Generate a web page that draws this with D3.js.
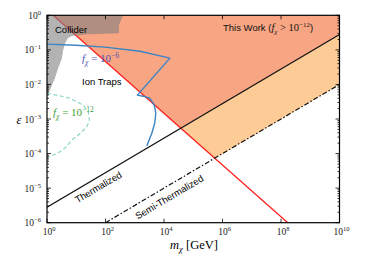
<!DOCTYPE html>
<html>
<head>
<meta charset="utf-8">
<script src="https://cdn.jsdelivr.net/npm/d3@7"></script>
<style>
  body { margin: 0; background: #fff; }
  svg text { font-family: "Liberation Serif", serif; }
  .sans { font-family: "Liberation Sans", "DejaVu Sans", sans-serif; }
</style>
</head>
<body>
<svg id="chart" width="390" height="260"></svg>
<script>
// axis ticks
const xTicks = [1e0, 1e2, 1e4, 1e6, 1e8, 1e10];
const yTicks = [1e-6, 1e-5, 1e-4, 1e-3, 1e-2, 1e-1, 1e0];

// straight bounds [m, eps]
const thermal = [[1, 2.8e-6], [1e10, 0.28]];
const semiThermal = [[1e2, 1e-6], [1e10, 1e-2]];
const redLine = [[1.62, 1], [1.7e8, 1e-6]];

// filled regions
const thisWork = [[1.62, 1], [1e10, 1], [1e10, 0.28], [3.7e4, 5.4e-4]];
const thermalBand = [[3.7e4, 5.4e-4], [1e10, 0.28], [1e10, 1e-2], [5.4e5, 7.2e-5]];
const collider = [
	[1, 1], [10 ** 2.6, 1], [10 ** 2.46, 10 ** -0.29], [10 ** 2.46, 10 ** -0.52],
	[10 ** 1.4, 10 ** -0.55], [10 ** 0.85, 10 ** -0.6], [10 ** 0.72, 10 ** -0.66],
	[10 ** 0.62, 10 ** -0.81], [10 ** 0.55, 10 ** -1.01], [10 ** 0.51, 10 ** -1.24],
	[10 ** 0.38, 10 ** -1.53], [10 ** 0.27, 10 ** -1.82], [10 ** 0.17, 10 ** -2.02],
	[10 ** 0.07, 10 ** -2.22], [1, 10 ** -2.31]
];

// ion trap curves (log10 m, log10 eps)
const ionTrap6 = [
	[0, -0.835], [0.99, -0.865], [1.98, -0.92], [3.18, -1.04], [4.2, -1.24],
	[3.09, -2.31], [3.29, -2.34], [3.52, -2.4], [3.67, -2.6], [3.72, -2.84],
	[3.68, -3.13], [3.58, -3.42], [3.41, -3.78]
];
const ionTrap12 = [
	[0, -2.26], [0.33, -2.31], [0.79, -2.4], [1.24, -2.6], [1.41, -2.79],
	[1.45, -3.03], [1.36, -3.23], [1.13, -3.42], [0.84, -3.61], [0.67, -3.8],
	[0.44, -3.95], [0.22, -4.04], [0, -4.11]
];

const svg = d3.select('#chart');
const x = d3.scaleLog().domain([1, 1e10]).range([47, 339.5]);
const y = d3.scaleLog().domain([1e-6, 1]).range([222.7, 15.3]);

const line = d3.line().x(d => x(d[0])).y(d => y(d[1]));
const logLine = d3.line().x(d => x(10 ** d[0])).y(d => y(10 ** d[1])).curve(d3.curveLinear);

svg.append('defs').append('clipPath').attr('id', 'clip')
	.append('rect').attr('x', x(1)).attr('y', y(1)).attr('width', x(1e10) - x(1)).attr('height', y(1e-6) - y(1));

const plot = svg.append('g').attr('clip-path', 'url(#clip)');

plot.append('path').attr('d', line(thisWork) + 'Z').attr('fill', '#F8A584');
plot.append('path').attr('d', line(thermalBand) + 'Z').attr('fill', '#FDCB95');

plot.append('path').attr('d', line(redLine)).attr('stroke', '#ff1a1a').attr('stroke-width', 1.3).attr('fill', 'none');

plot.append('path').attr('d', line(collider) + 'Z').attr('fill', '#808080').attr('fill-opacity', 0.6);

plot.append('path').attr('d', line(thermal)).attr('stroke', '#111').attr('stroke-width', 1.2).attr('fill', 'none');
plot.append('path').attr('d', line(semiThermal)).attr('stroke', '#111').attr('stroke-width', 1.2)
	.attr('stroke-dasharray', '5,2,1.5,2').attr('fill', 'none');

plot.append('path').attr('d', logLine(ionTrap6)).attr('stroke', '#3b84c4').attr('stroke-width', 1.4)
	.attr('fill', 'none').attr('stroke-linejoin', 'round');
plot.append('path').attr('d', logLine(ionTrap12)).attr('stroke', '#8fd6cb').attr('stroke-width', 1.2)
	.attr('stroke-dasharray', '4,2.5').attr('fill', 'none');

// frame
svg.append('rect').attr('x', x(1)).attr('y', y(1)).attr('width', x(1e10) - x(1)).attr('height', y(1e-6) - y(1))
	.attr('fill', 'none').attr('stroke', '#000').attr('stroke-width', 1.2);

// ticks
const tickG = svg.append('g').attr('stroke', '#000').attr('stroke-width', 0.8);
xTicks.forEach(t => {
	tickG.append('line').attr('x1', x(t)).attr('x2', x(t)).attr('y1', y(1e-6)).attr('y2', y(1e-6) - 4);
	tickG.append('line').attr('x1', x(t)).attr('x2', x(t)).attr('y1', y(1)).attr('y2', y(1) + 4);
});
yTicks.forEach(t => {
	tickG.append('line').attr('x1', x(1)).attr('x2', x(1) + 4).attr('y1', y(t)).attr('y2', y(t));
	tickG.append('line').attr('x1', x(1e10)).attr('x2', x(1e10) - 4).attr('y1', y(t)).attr('y2', y(t));
	if (t < 1) {
		for (let k = 2; k < 10; k++) {
			const v = t * k;
			tickG.append('line').attr('x1', x(1)).attr('x2', x(1) + 2).attr('y1', y(v)).attr('y2', y(v));
			tickG.append('line').attr('x1', x(1e10)).attr('x2', x(1e10) - 2).attr('y1', y(v)).attr('y2', y(v));
		}
	}
});

function pow10(g, exp) {
	g.append('tspan').text('10');
	g.append('tspan').attr('dy', -4).attr('font-size', 6.5).text(exp);
}

xTicks.forEach(t => {
	const e = Math.round(Math.log10(t));
	const tx = svg.append('text').attr('x', x(t) + 2).attr('y', 235).attr('font-size', 9.5)
		.attr('text-anchor', 'middle').attr('fill', '#222');
	pow10(tx, String(e).replace('-', '\u2212'));
});
yTicks.forEach(t => {
	const e = Math.round(Math.log10(t));
	const tx = svg.append('text').attr('x', 41).attr('y', y(t) + 3.5).attr('font-size', 9.5)
		.attr('text-anchor', 'end').attr('fill', '#222');
	pow10(tx, String(e).replace('-', '\u2212'));
});

// axis labels
const xl = svg.append('text').attr('x', 194).attr('y', 249).attr('font-size', 12.5).attr('text-anchor', 'middle');
xl.append('tspan').attr('font-style', 'italic').text('m');
xl.append('tspan').attr('font-style', 'italic').attr('font-size', 8.5).attr('dy', 2.5).text('χ');
xl.append('tspan').attr('dy', -2.5).text(' [GeV]');
svg.append('text').attr('x', 19).attr('y', 124).attr('font-size', 12.5).attr('font-style', 'italic')
	.attr('text-anchor', 'middle').text('ε');

// annotations
svg.append('text').attr('class', 'sans').attr('x', 55).attr('y', 33).attr('font-size', 9.5).text('Collider');
svg.append('text').attr('class', 'sans').attr('x', 82).attr('y', 85).attr('font-size', 9.5).text('Ion Traps');

function fLabel(px, py, exp, color, rel) {
	const t = svg.append('text').attr('x', px).attr('y', py).attr('font-size', 11).attr('fill', color);
	t.append('tspan').attr('font-style', 'italic').text('f');
	t.append('tspan').attr('font-style', 'italic').attr('font-size', 7.5).attr('dy', 2.5).text('χ');
	t.append('tspan').attr('dy', -2.5).text(' ' + rel + ' 10');
	t.append('tspan').attr('font-size', 7.5).attr('dy', -4.5).text(exp);
	return t;
}
fLabel(82, 62, '\u22126', '#5252b8', '=');
fLabel(53, 116, '\u221212', '#3f9f3f', '=');

const tw = svg.append('text').attr('x', 223).attr('y', 31).attr('font-size', 9.5).attr('fill', '#111');
tw.append('tspan').attr('class', 'sans').text('This Work (');
tw.append('tspan').attr('font-style', 'italic').attr('font-size', 10.5).text('f');
tw.append('tspan').attr('font-style', 'italic').attr('font-size', 7).attr('dy', 2.5).text('χ');
tw.append('tspan').attr('font-size', 10.5).attr('dy', -2.5).text(' > 10');
tw.append('tspan').attr('font-size', 7).attr('dy', -4).text('\u221212');
tw.append('tspan').attr('class', 'sans').attr('dy', 4).text(')');

const ang = -Math.atan2(y(thermal[0][1]) - y(thermal[1][1]), x(thermal[1][0]) - x(thermal[0][0])) * 180 / Math.PI;
svg.append('text').attr('class', 'sans').attr('font-size', 9.5).attr('text-anchor', 'middle')
	.attr('transform', `translate(100,190) rotate(${ang})`).text('Thermalized');
svg.append('text').attr('class', 'sans').attr('font-size', 9.5).attr('text-anchor', 'middle')
	.attr('transform', `translate(171,200) rotate(${ang})`).text('Semi-Thermalized');
</script>
</body>
</html>
